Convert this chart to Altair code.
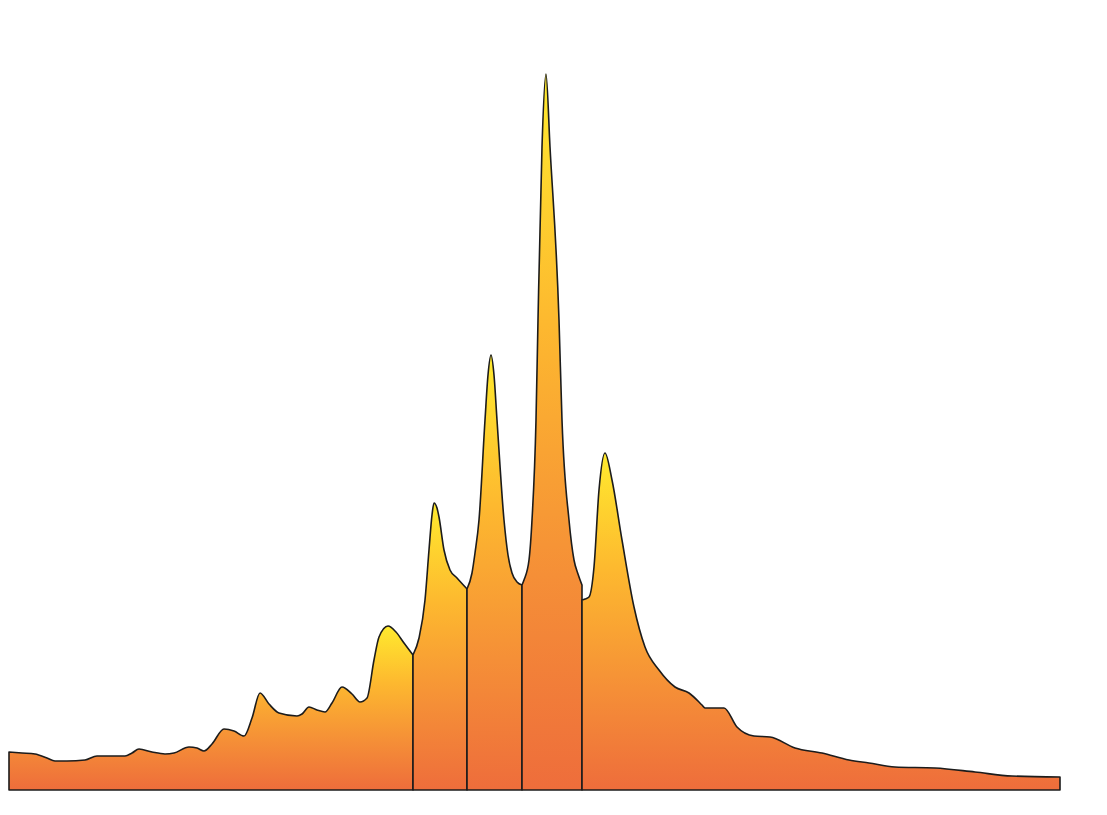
import altair as alt
import pandas as pd

# Five segments of the profile: positions along the axis and heights above the baseline
seg1_pos = [7, 20, 33, 45, 53, 65, 83, 95, 110, 123, 130, 137, 150, 163, 172, 187, 195, 202, 210, 222,
            232, 242, 250, 258, 267, 277, 295, 300, 307, 315, 323, 330, 340, 350, 358, 365, 372, 377,
            386, 394, 402, 411]
seg1_val = [38, 37, 36, 32, 29, 29, 30, 34, 34, 34, 37, 41, 38, 36, 37, 43, 42, 39, 46, 61,
            59, 54, 72, 97, 86, 77, 74, 76, 83, 80, 78, 87, 103, 96, 88, 92, 130, 153,
            164, 158, 147, 135]

seg2_pos = [411, 417, 423, 427, 430, 432, 435, 437, 442, 448, 455, 465]
seg2_val = [135, 152, 190, 240, 275, 287, 282, 273, 240, 220, 212, 201]

seg3_pos = [465, 470, 473, 477, 483, 486, 489, 492, 495, 502, 506, 510, 515, 520]
seg3_val = [201, 217, 237, 270, 370, 415, 435, 415, 370, 270, 235, 217, 208, 205]

seg4_pos = [520, 522, 527, 530, 534, 536, 540, 544, 548, 557, 560, 567, 572, 576, 580]
seg4_val = [205, 210, 230, 270, 370, 470, 643, 716, 643, 470, 370, 270, 230, 216, 205]

seg5_pos = [580, 583, 587, 592, 597, 603, 610, 620, 632, 643, 657, 673, 687, 700, 703, 722, 735,
            752, 768, 793, 820, 847, 867, 893, 933, 973, 1010, 1058]
seg5_val = [190, 191, 193, 223, 300, 337, 310, 250, 183, 143, 120, 103, 97, 85, 82, 82, 63,
            54, 53, 42, 37, 30, 27, 23, 22, 18, 14, 13]

segments = [
    (seg1_pos, seg1_val),
    (seg2_pos, seg2_val),
    (seg3_pos, seg3_val),
    (seg4_pos, seg4_val),
    (seg5_pos, seg5_val),
]

gradient = alt.Gradient(
    gradient="linear",
    x1=0, y1=0, x2=0, y2=1,
    stops=[
        alt.GradientStop(color="#FFEA2E", offset=0),
        alt.GradientStop(color="#FDB82F", offset=0.35),
        alt.GradientStop(color="#F58F37", offset=0.7),
        alt.GradientStop(color="#EE6D3B", offset=1),
    ],
)

x_scale = alt.Scale(domain=[7, 1059], nice=False, zero=False)
y_scale = alt.Scale(domain=[0, 782], nice=False)

layers = []
for pos, val in segments:
    df = pd.DataFrame({"pos": pos, "val": val})
    layers.append(
        alt.Chart(df)
        .mark_area(
            color=gradient,
            interpolate="monotone",
            stroke="#1c1c1c",
            strokeWidth=1.6,
            strokeJoin="round",
        )
        .encode(
            x=alt.X("pos:Q", scale=x_scale, axis=None),
            y=alt.Y("val:Q", scale=y_scale, axis=None),
        )
    )

chart = (
    alt.layer(*layers)
    .properties(width=1052, height=782, padding=0, background="white")
    .configure_view(stroke=None)
)

chart.save("out.html", embed_options={"renderer": "svg", "actions": False})
